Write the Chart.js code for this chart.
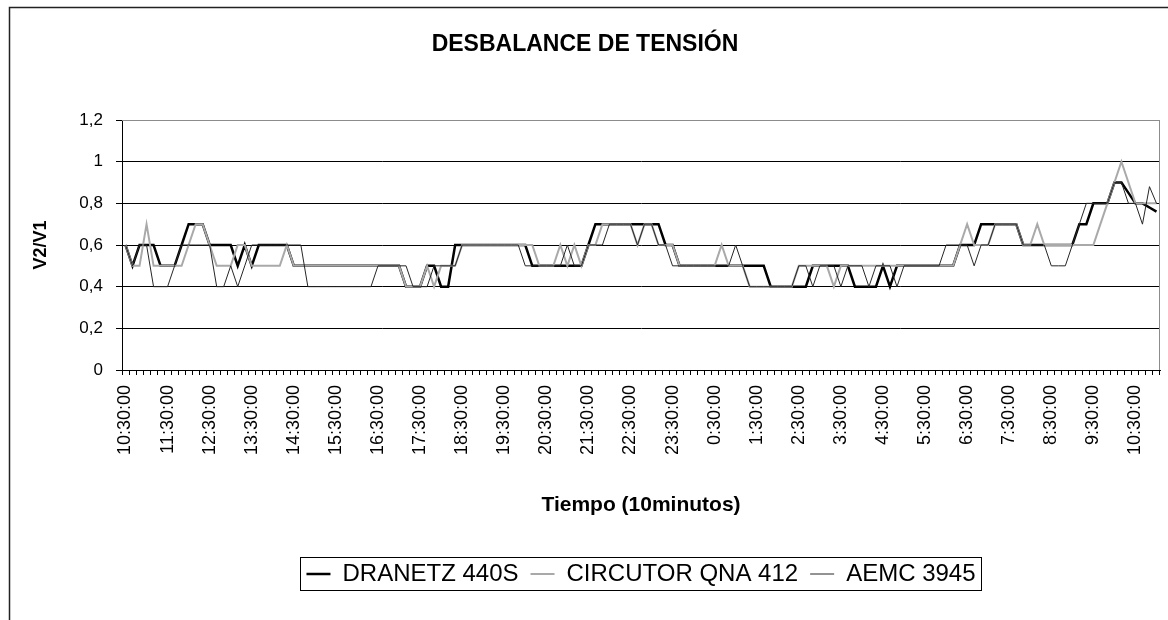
<!DOCTYPE html>
<html>
<head>
<meta charset="utf-8">
<script src="https://cdn.jsdelivr.net/npm/chart.js@4.4.0/dist/chart.umd.min.js"></script>
<style>
  html, body { margin: 0; padding: 0; background: #fff; }
  #wrap { width: 1168px; height: 620px; }
</style>
</head>
<body>
<div id="wrap"><canvas id="chart" width="1168" height="620"></canvas></div>
<script>
// V2/V1, one value every 10 minutes from 10:30:00
const dranetz = [
  0.6,0.5,0.6,0.6,0.6,0.5,0.5,0.5,0.6,0.7,
  0.7,0.7,0.6,0.6,0.6,0.6,0.5,0.6,0.5,0.6,
  0.6,0.6,0.6,0.6,0.5,0.5,0.5,0.5,0.5,0.5,
  0.5,0.5,0.5,0.5,0.5,0.5,0.5,0.5,0.5,0.5,
  0.4,0.4,0.4,0.5,0.5,0.4,0.4,0.6,0.6,0.6,
  0.6,0.6,0.6,0.6,0.6,0.6,0.6,0.6,0.5,0.5,
  0.5,0.5,0.5,0.5,0.5,0.5,0.6,0.7,0.7,0.7,
  0.7,0.7,0.7,0.7,0.7,0.7,0.7,0.6,0.6,0.5,
  0.5,0.5,0.5,0.5,0.5,0.5,0.5,0.5,0.5,0.5,
  0.5,0.5,0.4,0.4,0.4,0.4,0.4,0.4,0.5,0.5,
  0.5,0.5,0.5,0.5,0.4,0.4,0.4,0.4,0.5,0.4,
  0.5,0.5,0.5,0.5,0.5,0.5,0.5,0.5,0.5,0.6,
  0.6,0.6,0.7,0.7,0.7,0.7,0.7,0.7,0.6,0.6,
  0.6,0.6,0.6,0.6,0.6,0.6,0.7,0.7,0.8,0.8,
  0.8,0.9,0.9,0.85,0.8,0.8,0.78,0.76
];
const circutor = [
  0.6,0.5,0.5,0.7,0.5,0.5,0.5,0.5,0.5,0.6,
  0.7,0.7,0.6,0.5,0.5,0.5,0.6,0.6,0.5,0.5,
  0.5,0.5,0.5,0.6,0.5,0.5,0.5,0.5,0.5,0.5,
  0.5,0.5,0.5,0.5,0.5,0.5,0.5,0.5,0.5,0.5,
  0.4,0.4,0.4,0.5,0.4,0.5,0.5,0.5,0.6,0.6,
  0.6,0.6,0.6,0.6,0.6,0.6,0.6,0.6,0.6,0.5,
  0.5,0.5,0.6,0.5,0.6,0.5,0.6,0.6,0.7,0.7,
  0.7,0.7,0.7,0.6,0.7,0.7,0.6,0.6,0.6,0.5,
  0.5,0.5,0.5,0.5,0.5,0.6,0.5,0.5,0.5,0.4,
  0.4,0.4,0.4,0.4,0.4,0.4,0.5,0.5,0.5,0.5,
  0.5,0.4,0.5,0.5,0.5,0.5,0.5,0.5,0.5,0.5,
  0.5,0.5,0.5,0.5,0.5,0.5,0.5,0.5,0.5,0.6,
  0.7,0.6,0.6,0.6,0.7,0.7,0.7,0.7,0.6,0.6,
  0.7,0.6,0.6,0.6,0.6,0.6,0.6,0.6,0.6,0.7,
  0.8,0.9,1.0,0.9,0.8,0.8,0.8,0.8
];
const aemc = [
  0.6,0.5,0.6,0.6,0.4,0.4,0.4,0.5,0.6,0.6,
  0.6,0.6,0.6,0.4,0.4,0.5,0.4,0.5,0.6,0.6,
  0.6,0.6,0.6,0.6,0.6,0.6,0.4,0.4,0.4,0.4,
  0.4,0.4,0.4,0.4,0.4,0.4,0.5,0.5,0.5,0.5,
  0.5,0.4,0.4,0.4,0.5,0.5,0.5,0.5,0.6,0.6,
  0.6,0.6,0.6,0.6,0.6,0.6,0.6,0.5,0.5,0.5,
  0.5,0.5,0.5,0.6,0.5,0.5,0.6,0.6,0.6,0.7,
  0.7,0.7,0.7,0.6,0.7,0.7,0.6,0.6,0.5,0.5,
  0.5,0.5,0.5,0.5,0.5,0.5,0.5,0.6,0.5,0.4,
  0.4,0.4,0.4,0.4,0.4,0.4,0.5,0.5,0.4,0.5,
  0.5,0.5,0.4,0.5,0.5,0.5,0.4,0.5,0.5,0.5,
  0.4,0.5,0.5,0.5,0.5,0.5,0.5,0.6,0.6,0.6,
  0.6,0.5,0.6,0.6,0.7,0.7,0.7,0.7,0.6,0.6,
  0.6,0.6,0.5,0.5,0.5,0.6,0.7,0.8,0.8,0.8,
  0.8,0.9,0.9,0.8,0.8,0.7,0.88,0.8
];
const seriesNames = ["DRANETZ 440S", "CIRCUTOR QNA 412", "AEMC 3945"];

// time axis: 10 minute steps starting 10:30:00, label every hour
const startHour = 10, startMin = 30, stepMin = 10, labelEvery = 6;
const times = [];
for (let i = 0; i < dranetz.length; i++) {
  const t = startHour * 60 + startMin + i * stepMin;
  const h = Math.floor(t / 60) % 24;
  const m = t % 60;
  times.push(h + ":" + String(m).padStart(2, "0") + ":00");
}

Chart.defaults.font.family = "'Liberation Sans', Arial, sans-serif";
Chart.defaults.color = "#000";

// white page, outer frame and the grey plot border
const framePlugin = {
  id: "frame",
  beforeDraw(chart) {
    const { ctx } = chart;
    ctx.save();
    ctx.fillStyle = "#fff";
    ctx.fillRect(0, 0, chart.width, chart.height);
    ctx.strokeStyle = "#222";
    ctx.lineWidth = 1.5;
    ctx.beginPath();
    ctx.moveTo(9.5, chart.height);
    ctx.lineTo(9.5, 7.5);
    ctx.lineTo(chart.width, 7.5);
    ctx.stroke();
    ctx.restore();
  },
  afterDatasetsDraw(chart) {
    const { ctx, chartArea } = chart;
    ctx.save();
    ctx.strokeStyle = "#8c8c8c";
    ctx.lineWidth = 1;
    ctx.beginPath();
    ctx.moveTo(chartArea.left, chartArea.top + 0.5);
    ctx.lineTo(chartArea.right - 0.5, chartArea.top + 0.5);
    ctx.lineTo(chartArea.right - 0.5, chartArea.bottom);
    ctx.stroke();
    ctx.restore();
  }
};

// box drawn round the legend entries
const legendBoxPlugin = {
  id: "legendBox",
  afterDraw(chart) {
    const boxes = chart.legend && chart.legend.legendHitBoxes;
    if (!boxes || !boxes.length) return;
    let l = Infinity, r = -Infinity, t = Infinity, b = -Infinity;
    boxes.forEach(h => {
      l = Math.min(l, h.left); r = Math.max(r, h.left + h.width);
      t = Math.min(t, h.top); b = Math.max(b, h.top + h.height);
    });
    const ctx = chart.ctx;
    ctx.save();
    ctx.strokeStyle = "#000";
    ctx.lineWidth = 1;
    ctx.strokeRect(Math.round(l - 6) + 0.5, Math.round(t - 5) + 0.5, Math.round(r - l + 12), Math.round(b - t + 9));
    ctx.restore();
  }
};

new Chart(document.getElementById("chart"), {
  type: "line",
  data: {
    labels: times,
    datasets: [
      { label: seriesNames[0], data: dranetz, borderColor: "#000", borderWidth: 2.5, order: 3 },
      { label: seriesNames[1], data: circutor, borderColor: "#a9a9a9", borderWidth: 2, order: 2 },
      { label: seriesNames[2], data: aemc, borderColor: "#262626", borderWidth: 1, order: 1 }
    ]
  },
  options: {
    responsive: false,
    animation: false,
    devicePixelRatio: 1,
    elements: {
      point: { radius: 0, hoverRadius: 0 },
      line: { tension: 0, fill: false }
    },
    layout: { padding: { top: 8, left: 10, right: 8, bottom: 24 } },
    scales: {
      x: {
        offset: true,
        grid: {
          display: true, drawOnChartArea: false, drawTicks: true,
          tickLength: 5, color: "#000", offset: true
        },
        border: { display: true, color: "#000", width: 1 },
        ticks: {
          autoSkip: false, maxRotation: 90, minRotation: 90, padding: 10,
          font: { size: 18 },
          callback: (v, i) => (i % labelEvery === 0 ? times[i] : "")
        },
        title: {
          display: true, text: "Tiempo (10minutos)",
          font: { size: 21, weight: "bold" },
          padding: { top: 0, bottom: 32 }
        },
        afterFit(scale) {
          scale.height = 180;
          scale.paddingLeft = 0;
          scale.paddingRight = 0;
        }
      },
      y: {
        min: 0, max: 1.2,
        ticks: {
          stepSize: 0.2, padding: 13, font: { size: 17 },
          callback: v => String(Number(v.toFixed(1))).replace(".", ",")
        },
        grid: {
          color: c => (Math.abs(c.tick.value - 1.2) < 1e-6 ? "#8c8c8c" : "#000"),
          tickColor: "#000", tickLength: 6, lineWidth: 1
        },
        border: { display: true, color: "#000", width: 1 },
        title: {
          display: true, text: "V2/V1",
          font: { size: 18, weight: "bold" },
          padding: { top: 20, bottom: 0 }
        },
        afterFit(scale) {
          scale.width = 112;
          scale.paddingTop = 0;
          scale.paddingBottom = 0;
        }
      }
    },
    plugins: {
      title: {
        display: true, text: "DESBALANCE DE TENSIÓN",
        font: { size: 23, weight: "bold" },
        padding: { top: 23, bottom: 61.4 }
      },
      legend: {
        position: "bottom",
        fullSize: false,
        labels: {
          usePointStyle: true, pointStyle: "line", pointStyleWidth: 24,
          padding: 12, font: { size: 24 },
          sort: (a, b) => a.datasetIndex - b.datasetIndex
        }
      },
      tooltip: { enabled: false }
    }
  },
  plugins: [framePlugin, legendBoxPlugin]
});
</script>
</body>
</html>
